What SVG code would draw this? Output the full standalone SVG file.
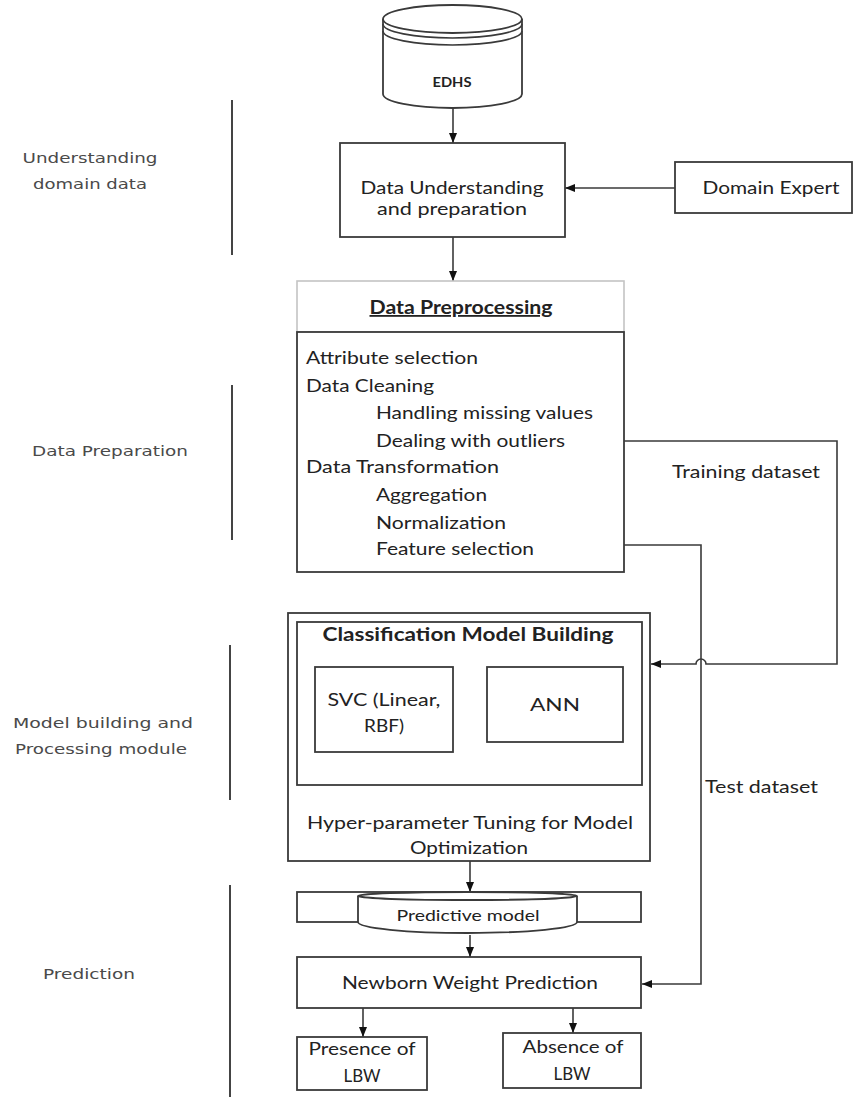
<svg xmlns="http://www.w3.org/2000/svg" width="854" height="1097" viewBox="0 0 854 1097">
<defs>
<marker id="arr" markerWidth="10" markerHeight="8" refX="10" refY="4" orient="auto" markerUnits="userSpaceOnUse">
<path d="M0,0 L10,4 L0,8 z" fill="#111"/>
</marker>
<style>
.box{fill:#fff;stroke:#3a3a3a;stroke-width:1.8}
.hdr{fill:#fff;stroke:#c4c4c4;stroke-width:1.6}
.t{font-family:Lato,"Liberation Sans",sans-serif;font-size:18px;fill:#222}
.c{text-anchor:middle}
.b{font-weight:bold}
.side{font-family:"DejaVu Sans","Liberation Sans",sans-serif;font-size:14px;fill:#4a4a4a;text-anchor:middle}
.con{fill:none;stroke:#3a3a3a;stroke-width:1.6}
.arw{marker-end:url(#arr)}
.sep{stroke:#444;stroke-width:2}
</style>
</defs>
<rect width="854" height="1097" fill="#fff"/>

<g id="side-labels">
<line class="sep" x1="232" y1="100" x2="232" y2="255"/>
<line class="sep" x1="232" y1="385" x2="232" y2="540"/>
<line class="sep" x1="230" y1="645" x2="230" y2="800"/>
<line class="sep" x1="230" y1="885" x2="230" y2="1097"/>
<text class="side" x="90" y="163" textLength="135" lengthAdjust="spacingAndGlyphs">Understanding</text>
<text class="side" x="90" y="189" textLength="114" lengthAdjust="spacingAndGlyphs">domain data</text>
<text class="side" x="110" y="456" textLength="156" lengthAdjust="spacingAndGlyphs">Data Preparation</text>
<text class="side" x="103" y="728" textLength="180" lengthAdjust="spacingAndGlyphs">Model building and</text>
<text class="side" x="101" y="754" textLength="172" lengthAdjust="spacingAndGlyphs">Processing module</text>
<text class="side" x="89" y="979" textLength="92" lengthAdjust="spacingAndGlyphs">Prediction</text>
</g>

<g id="connectors">
<path class="con arw" d="M453,108 V143"/>
<path class="con arw" d="M675,188 H565"/>
<path class="con arw" d="M453,237 V281"/>
<path class="con arw" d="M624,441 H837 V664 H706 A5,5 0 0 0 696,664 H651"/>
<path class="con arw" d="M624,545 H701 V984 H642"/>
<path class="con arw" d="M470,861 V892"/>
<path class="con arw" d="M470,935 V957"/>
<path class="con arw" d="M363,1008 V1037"/>
<path class="con arw" d="M573,1008 V1033"/>
</g>

<g id="edhs">
<path class="box" d="M383,19 V94 A69.5,14 0 0 0 522,94 V19"/>
<ellipse class="box" cx="452.5" cy="19" rx="69.5" ry="14"/>
<path class="con" d="M383,24 A69.5,14 0 0 0 522,24"/>
<path class="con" d="M383,31 A69.5,14 0 0 0 522,31"/>
<text class="t c b" x="452" y="87" style="font-size:14px" textLength="39" lengthAdjust="spacingAndGlyphs">EDHS</text>
</g>

<g id="data-understanding">
<rect class="box" x="340" y="143" width="225" height="94"/>
<text class="t c" x="452" y="194" textLength="183" lengthAdjust="spacingAndGlyphs">Data Understanding</text>
<text class="t c" x="452" y="215" textLength="150" lengthAdjust="spacingAndGlyphs">and preparation</text>
</g>

<g id="domain-expert">
<rect class="box" x="675" y="162" width="177" height="51"/>
<text class="t c" x="771" y="194" textLength="137" lengthAdjust="spacingAndGlyphs">Domain Expert</text>
</g>

<g id="data-preprocessing">
<rect class="hdr" x="297" y="281" width="327" height="51"/>
<rect class="box" x="297" y="332" width="327" height="240"/>
<text class="t c b" x="461" y="314" text-decoration="underline" textLength="183" lengthAdjust="spacingAndGlyphs">Data Preprocessing</text>
<text class="t" x="306" y="364" textLength="172" lengthAdjust="spacingAndGlyphs">Attribute selection</text>
<text class="t" x="306" y="392" textLength="128" lengthAdjust="spacingAndGlyphs">Data Cleaning</text>
<text class="t" x="376" y="419" textLength="217" lengthAdjust="spacingAndGlyphs">Handling missing values</text>
<text class="t" x="376" y="447" textLength="189" lengthAdjust="spacingAndGlyphs">Dealing with outliers</text>
<text class="t" x="306" y="473" textLength="193" lengthAdjust="spacingAndGlyphs">Data Transformation</text>
<text class="t" x="376" y="501" textLength="111" lengthAdjust="spacingAndGlyphs">Aggregation</text>
<text class="t" x="376" y="529" textLength="130" lengthAdjust="spacingAndGlyphs">Normalization</text>
<text class="t" x="376" y="555" textLength="158" lengthAdjust="spacingAndGlyphs">Feature selection</text>
</g>

<g id="edge-labels">
<text class="t c" x="746" y="478" textLength="148" lengthAdjust="spacingAndGlyphs">Training dataset</text>
<text class="t" x="705" y="793" textLength="113" lengthAdjust="spacingAndGlyphs">Test dataset</text>
</g>

<g id="model-building">
<rect class="box" x="288" y="613" width="362" height="248"/>
<rect class="box" x="297" y="622" width="345" height="163"/>
<text class="t c b" x="468" y="641" textLength="291" lengthAdjust="spacingAndGlyphs">Classification Model Building</text>
<text class="t c" x="470" y="829" textLength="326" lengthAdjust="spacingAndGlyphs">Hyper-parameter Tuning for Model</text>
<text class="t c" x="469" y="854" textLength="118" lengthAdjust="spacingAndGlyphs">Optimization</text>
</g>

<g id="svc">
<rect class="box" x="315" y="667" width="138" height="85"/>
<text class="t c" x="384" y="706" textLength="113" lengthAdjust="spacingAndGlyphs">SVC (Linear,</text>
<text class="t c" x="384" y="732" textLength="40" lengthAdjust="spacingAndGlyphs">RBF)</text>
</g>

<g id="ann">
<rect class="box" x="487" y="667" width="136" height="75"/>
<text class="t c" x="555" y="711" textLength="50" lengthAdjust="spacingAndGlyphs">ANN</text>
</g>

<g id="predictive-model">
<rect class="box" x="297" y="892" width="344" height="30"/>
<path class="box" d="M358,896 V922 A109.5,11 0 0 0 577,922 V896"/>
<ellipse class="box" cx="467.5" cy="896" rx="109.5" ry="4"/>
<text class="t c" x="468" y="921" style="font-size:16px" textLength="143" lengthAdjust="spacingAndGlyphs">Predictive model</text>
</g>

<g id="newborn-weight-prediction">
<rect class="box" x="297" y="957" width="344" height="51"/>
<text class="t c" x="470" y="989" textLength="256" lengthAdjust="spacingAndGlyphs">Newborn Weight Prediction</text>
</g>

<g id="presence-lbw">
<rect class="box" x="297" y="1037" width="130" height="53"/>
<text class="t c" x="362" y="1055" textLength="107" lengthAdjust="spacingAndGlyphs">Presence of</text>
<text class="t c" x="362" y="1082" textLength="37" lengthAdjust="spacingAndGlyphs">LBW</text>
</g>

<g id="absence-lbw">
<rect class="box" x="503" y="1033" width="138" height="55"/>
<text class="t c" x="573" y="1053" textLength="101" lengthAdjust="spacingAndGlyphs">Absence of</text>
<text class="t c" x="572" y="1080" textLength="37" lengthAdjust="spacingAndGlyphs">LBW</text>
</g>
</svg>
